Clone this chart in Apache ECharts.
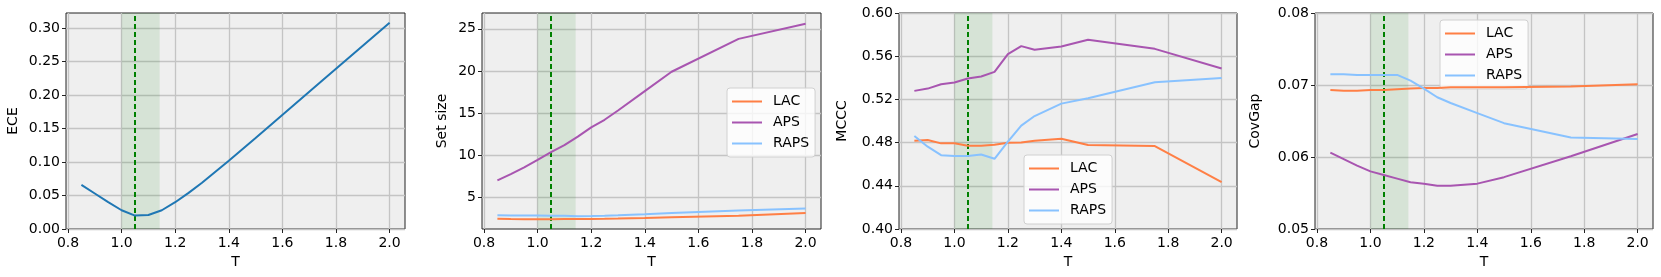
<!DOCTYPE html>
<html>
<head>
<meta charset="utf-8">
<script src="https://cdn.jsdelivr.net/npm/echarts@6/dist/echarts.min.js"></script>
<style>
html,body{margin:0;padding:0;background:#fff;}
#chart{width:1661px;height:277px;}
</style>
</head>
<body>
<div id="chart"></div>
<script>
// ---- data ----
const T = [0.85, 0.9, 0.95, 1.0, 1.05, 1.1, 1.15, 1.2, 1.25, 1.3, 1.4, 1.5, 1.75, 2.0];
const ECE = [0.066, 0.053, 0.040, 0.028, 0.020, 0.021, 0.028, 0.040, 0.054, 0.069, 0.102, 0.136, 0.222, 0.308];
const SET_LAC = [2.45, 2.42, 2.40, 2.40, 2.40, 2.41, 2.42, 2.43, 2.45, 2.48, 2.55, 2.63, 2.82, 3.12];
const SET_APS = [7.0, 7.75, 8.55, 9.44, 10.36, 11.2, 12.2, 13.3, 14.2, 15.3, 17.6, 19.9, 23.8, 25.6];
const SET_RAPS = [2.86, 2.85, 2.84, 2.83, 2.82, 2.80, 2.76, 2.78, 2.82, 2.87, 2.98, 3.12, 3.43, 3.68];
const MCCC_LAC = [0.4817, 0.4824, 0.4793, 0.4793, 0.4771, 0.4771, 0.4780, 0.4799, 0.4802, 0.4817, 0.4836, 0.4777, 0.4768, 0.4434];
const MCCC_APS = [0.5279, 0.5300, 0.5340, 0.5356, 0.5393, 0.5412, 0.5455, 0.5619, 0.5693, 0.5659, 0.5690, 0.5752, 0.5668, 0.5486];
const MCCC_RAPS = [0.4861, 0.4762, 0.4684, 0.4675, 0.4675, 0.4690, 0.4650, 0.4808, 0.4957, 0.5046, 0.5161, 0.5210, 0.5359, 0.5399];
const COV_LAC = [0.0693, 0.0692, 0.0692, 0.0693, 0.0693, 0.0694, 0.0695, 0.0696, 0.0696, 0.0697, 0.0697, 0.0697, 0.0698, 0.0701];
const COV_APS = [0.0606, 0.0597, 0.0588, 0.0580, 0.0575, 0.0570, 0.0565, 0.0563, 0.0560, 0.0560, 0.0563, 0.0572, 0.0601, 0.0632];
const COV_RAPS = [0.0715, 0.0715, 0.0714, 0.0714, 0.0714, 0.0714, 0.0706, 0.0695, 0.0683, 0.0675, 0.0661, 0.0647, 0.0627, 0.0625];

const X_TICKS = [0.8, 1.0, 1.2, 1.4, 1.6, 1.8, 2.0];
const Y1_TICKS = [0, 0.05, 0.10, 0.15, 0.20, 0.25, 0.30];
const Y2_TICKS = [5, 10, 15, 20, 25];
const Y3_TICKS = [0.40, 0.44, 0.48, 0.52, 0.56, 0.60];
const Y4_TICKS = [0.05, 0.06, 0.07, 0.08];
const Y_NAMES = ['ECE', 'Set size', 'MCCC', 'CovGap'];
const BEST_T = 1.05;
const BAND = [1.0, 1.142];
const METHODS = ['LAC', 'APS', 'RAPS'];

// ---- style ----
const FONT = 'DejaVu Sans';
const COLORS = {LAC: '#ff7f45', APS: '#a855b0', RAPS: '#88c2ff', ECE: '#1f77b4'};
const pair = (ys) => T.map((t, i) => [t, ys[i]]);

const grids = [
  {left: 66, top: 13, width: 339, height: 216},
  {left: 482, top: 13, width: 339, height: 216},
  {left: 899, top: 13, width: 338, height: 216},
  {left: 1315, top: 13, width: 338, height: 216}
].map(g => Object.assign(g, {show: true, backgroundColor: '#efefef', borderColor: '#222', borderWidth: 1, containLabel: false}));

const yCfg = [
  {min: 0, max: 0.3225, ticks: Y1_TICKS, fmt: v => v.toFixed(2), gap: 46},
  {min: 1.235, max: 26.87, ticks: Y2_TICKS, fmt: v => String(Math.round(v)), gap: 33},
  {min: 0.40, max: 0.60, ticks: Y3_TICKS, fmt: v => v.toFixed(2), gap: 50},
  {min: 0.05, max: 0.08, ticks: Y4_TICKS, fmt: v => v.toFixed(2), gap: 53}
];

const gridLine = {show: true, lineStyle: {color: '#c4c4c4', width: 1.3}};

const xAxes = grids.map((g, i) => ({
  type: 'value', gridIndex: i, min: 0.7925, max: 2.0575,
  name: 'T', nameLocation: 'middle', nameGap: 25,
  nameTextStyle: {fontFamily: FONT, fontSize: 14, color: '#000'},
  axisLine: {show: false},
  axisTick: {show: true, customValues: X_TICKS, length: 4, lineStyle: {color: '#222'}},
  axisLabel: {customValues: X_TICKS, formatter: v => v.toFixed(1), fontFamily: FONT, fontSize: 14, color: '#000', margin: 7},
  splitLine: gridLine
}));

const yAxes = yCfg.map((c, i) => ({
  type: 'value', gridIndex: i, min: c.min, max: c.max,
  name: Y_NAMES[i], nameLocation: 'middle', nameGap: c.gap, nameRotate: 90,
  nameTextStyle: {fontFamily: FONT, fontSize: 14, color: '#000'},
  axisLine: {show: false},
  axisTick: {show: true, customValues: c.ticks, length: 4, lineStyle: {color: '#222'}},
  axisLabel: {customValues: c.ticks, formatter: c.fmt, fontFamily: FONT, fontSize: 14, color: '#000', margin: 6},
  splitLine: gridLine
}));

function lineSeries(name, ys, idx, color, withMarks) {
  const s = {
    type: 'line', name: name, xAxisIndex: idx, yAxisIndex: idx,
    data: pair(ys), symbol: 'none', smooth: false,
    lineStyle: {color: color, width: 2}, itemStyle: {color: color},
    z: 5, animation: false
  };
  if (withMarks) {
    s.markArea = {silent: true, itemStyle: {color: 'rgba(0,128,0,0.1)'}, data: [[{xAxis: BAND[0]}, {xAxis: BAND[1]}]]};
    s.markLine = {silent: true, symbol: ['none', 'none'], label: {show: false},
      lineStyle: {color: '#008000', type: [5, 3], width: 2}, data: [{xAxis: BEST_T}], animation: false};
  }
  return s;
}

const series = [
  lineSeries('ECE', ECE, 0, COLORS.ECE, true),
  lineSeries('LAC', SET_LAC, 1, COLORS.LAC, true),
  lineSeries('APS', SET_APS, 1, COLORS.APS, false),
  lineSeries('RAPS', SET_RAPS, 1, COLORS.RAPS, false),
  lineSeries('LAC', MCCC_LAC, 2, COLORS.LAC, true),
  lineSeries('APS', MCCC_APS, 2, COLORS.APS, false),
  lineSeries('RAPS', MCCC_RAPS, 2, COLORS.RAPS, false),
  lineSeries('LAC', COV_LAC, 3, COLORS.LAC, true),
  lineSeries('APS', COV_APS, 3, COLORS.APS, false),
  lineSeries('RAPS', COV_RAPS, 3, COLORS.RAPS, false)
];

function legendAt(left, top) {
  return {
    data: METHODS, left: left, top: top, orient: 'vertical',
    icon: 'rect', itemWidth: 30, itemHeight: 2, itemGap: 4,
    padding: [5, 6, 5, 5],
    backgroundColor: 'rgba(255,255,255,0.8)', borderColor: '#d0d0d0', borderWidth: 1, borderRadius: 3,
    textStyle: {fontFamily: FONT, fontSize: 14, color: '#000', padding: [0, 0, 0, 6], lineHeight: 17},
    selectedMode: false
  };
}

const option = {
  animation: false,
  grid: grids,
  xAxis: xAxes,
  yAxis: yAxes,
  legend: [legendAt(727, 88), legendAt(1024, 155), legendAt(1440, 20)],
  series: series
};

const chart = echarts.init(document.getElementById('chart'), null, {renderer: 'canvas'});
chart.setOption(option);
</script>
</body>
</html>
